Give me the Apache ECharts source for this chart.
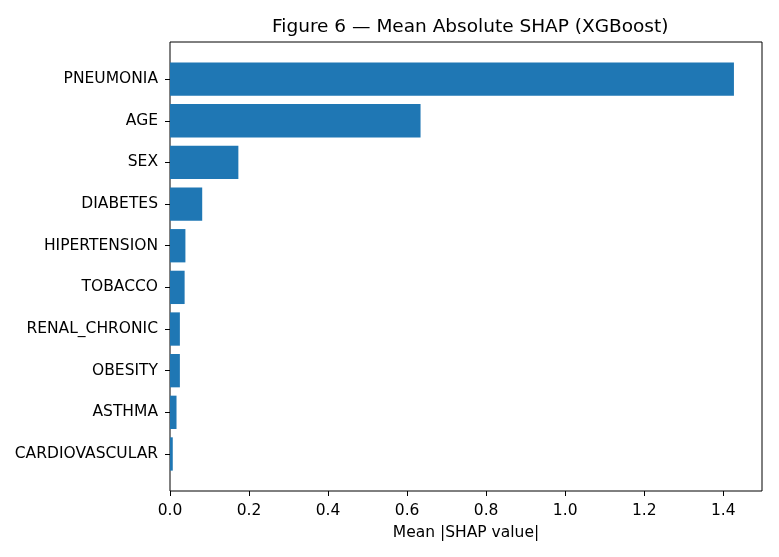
<!DOCTYPE html>
<html>
<head>
<meta charset="utf-8">
<script src="https://cdn.jsdelivr.net/npm/echarts@6/dist/echarts.min.js"></script>
<style>
  html, body { margin: 0; padding: 0; background: #fff; }
  #main { width: 779px; height: 557px; }
</style>
</head>
<body>
<div id="main"></div>
<script>
// 特征名称（从下到上）
var features = ['CARDIOVASCULAR', 'ASTHMA', 'OBESITY', 'RENAL_CHRONIC', 'TOBACCO',
  'HIPERTENSION', 'DIABETES', 'SEX', 'AGE', 'PNEUMONIA'];
// 平均 |SHAP| 值
var meanShap = [0.007, 0.0165, 0.025, 0.025, 0.037, 0.039, 0.0815, 0.173, 0.634, 1.427];
// x 轴刻度
var xTicks = [0, 0.2, 0.4, 0.6, 0.8, 1.0, 1.2, 1.4];

var xMax = 1.498;
var font = 'DejaVu Sans';
var chart = echarts.init(document.getElementById('main'));

var option = {
  animation: false,
  title: {
    text: 'Figure 6 \u2014 Mean Absolute SHAP (XGBoost)',
    left: 267,
    top: 13,
    textStyle: { fontFamily: font, fontSize: 18.5, fontWeight: 'normal', color: '#000' }
  },
  grid: [
    // 外框
    { left: 170, right: 17, top: 42, bottom: 66, show: true, borderColor: '#000', borderWidth: 1, backgroundColor: 'transparent' },
    // 柱子区域
    { left: 170, right: 17, top: 58.3, height: 416.5 }
  ],
  xAxis: [{
    gridIndex: 0,
    type: 'value',
    min: 0,
    max: xMax,
    name: 'Mean |SHAP value|',
    nameLocation: 'middle',
    nameGap: 34,
    nameTextStyle: { fontFamily: font, fontSize: 15.5, color: '#000' },
    splitLine: { show: false },
    axisLine: { show: false },
    axisTick: { show: true, length: 5, lineStyle: { color: '#000' }, customValues: xTicks },
    axisLabel: {
      fontFamily: font, fontSize: 15.5, color: '#000', margin: 12,
      customValues: xTicks,
      formatter: function (v) { return v.toFixed(1); }
    }
  }, {
    gridIndex: 1,
    type: 'value',
    min: 0,
    max: xMax,
    show: false
  }],
  yAxis: [{
    gridIndex: 0,
    type: 'value',
    show: false
  }, {
    gridIndex: 1,
    type: 'category',
    data: features,
    axisLine: { show: false },
    axisTick: { show: true, alignWithLabel: true, length: 5, lineStyle: { color: '#000' } },
    axisLabel: { fontFamily: font, fontSize: 15.5, color: '#000', margin: 12 },
    splitLine: { show: false }
  }],
  series: [{
    type: 'bar',
    xAxisIndex: 1,
    yAxisIndex: 1,
    data: meanShap,
    barWidth: '80%',
    itemStyle: { color: '#1f77b4' }
  }]
};
chart.setOption(option);
</script>
</body>
</html>
